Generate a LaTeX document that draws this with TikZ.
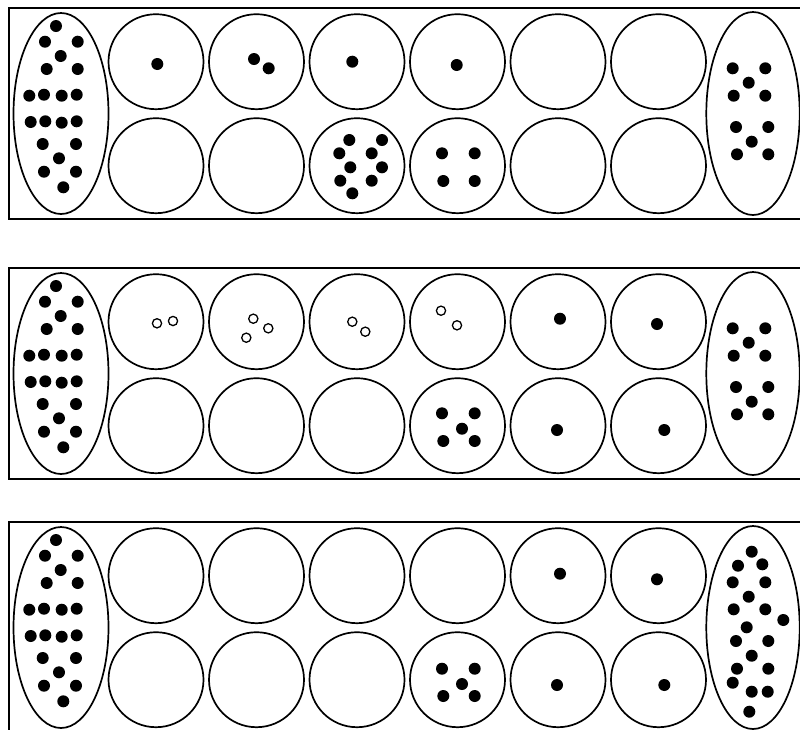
\documentclass[tikz,border=0pt]{standalone}
\begin{document}
\begin{tikzpicture}[x=1pt,y=-1pt,
  board/.style={line width=2.1pt},
  pit/.style={line width=1.7pt},
  bead/.style={fill=black},
  hole/.style={line width=1.3pt,draw=black,fill=white}]
\clip (0,0) rectangle (800,729);
\fill[white] (0,0) rectangle (800,729);
\def\leftdots{(56,26),(45,41.7),(77.7,41.7),(60.7,56),(46.7,69),(77.7,69),(29.3,95.7),(44,94.7),(61.7,95.7),(76.7,94.7),(30.7,122),(45.3,121.3),(61.7,122.7),(76.7,121.3),(42.7,144),(76,144),(59,158.3),(44,171.7),(76,171.7),(63.3,187.3)}
\def\rightdots{(732.7,68.3),(765.3,68.3),(748.7,82.7),(733.7,95.7),(765.3,95.7),(736,127),(768.3,127),(751.7,141.7),(737,154.3),(768.3,154.3)}
% common board frame
\foreach \off in {0,260,514}{
  \begin{scope}[shift={(0,\off)}]
    \draw[board] (9,8) rectangle (830,219);
    \draw[pit] (61,113.5) ellipse [x radius=47.5pt, y radius=100.5pt];
    \draw[pit] (753,113.5) ellipse [x radius=46.7pt, y radius=101.5pt];
    \foreach \cx in {156,256.5,357,457.5,558,658.5}{
      \draw[pit] (\cx,61.7) circle (47.5pt);
      \draw[pit] (\cx,165.7) circle (47.5pt);
    }
    \foreach \p in \leftdots {\fill[bead] \p circle (6pt);}
  \end{scope}
}
% board 1
\foreach \p in {(157.3,64),(254,59),(268.7,68.3),(352.3,61.7),(456.7,65),
  (349.3,140),(382,140),(339.3,153.3),(371.7,153.3),(350.3,167.3),(382,167.3),(340.3,180.7),(371.7,180.7),(352.3,193.3),
  (442,153.3),(474.7,153.3),(443.3,181),(474.7,181)}
  {\fill[bead] \p circle (6pt);}
\foreach \p in \rightdots {\fill[bead] \p circle (6pt);}
% board 2
\begin{scope}[shift={(0,260)}]
  \foreach \p in {(157,63.3),(173,61),(253.3,58.7),(268.3,68.3),(246.3,77.7),(352.3,61.7),(365.3,71.7),(441,50.7),(457,65.3)}
    {\draw[hole] \p circle (4.6pt);}
  \foreach \p in {(560,58.7),(657,64),(442,153.3),(474.7,153.3),(462,168.7),(443.3,181),(474.7,181),(557,170),(664.3,170)}
    {\fill[bead] \p circle (6pt);}
  \foreach \p in \rightdots {\fill[bead] \p circle (6pt);}
\end{scope}
% board 3
\begin{scope}[shift={(0,514)}]
  \foreach \p in {(560,59.7),(657,65.3),(442,154.7),(474.7,154.7),(462,170),(443.3,182),(474.7,182),(557,171),(664.3,171)}
    {\fill[bead] \p circle (6pt);}
  \foreach \p in {(751.7,37.7),(738,51.7),(762.3,50.3),(732.7,68.3),(765.3,68.3),(748.7,82.7),(733.7,95.3),(765.3,95.3),(783.3,106),(746.7,113.3),(736,127),(768.3,127),(751.7,141.7),(737,154.7),(768.3,154.7),(732.7,168.7),(751.7,177.7),(767.7,177.7),(749.3,197.7)}
    {\fill[bead] \p circle (6pt);}
\end{scope}
\end{tikzpicture}
\end{document}
